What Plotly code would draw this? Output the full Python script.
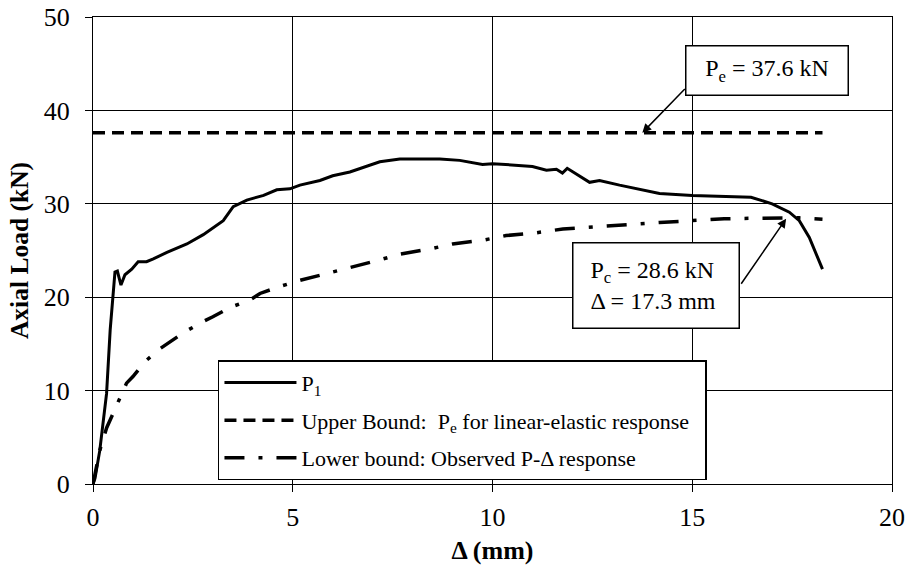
import plotly.graph_objects as go

# ---- data ----
p1_x = [0, 0.05, 0.17, 0.34, 0.43, 0.51, 0.55, 0.61, 0.70, 0.80, 0.97, 1.13, 1.34, 1.51, 1.85,
        2.35, 2.76, 3.26, 3.51, 3.85, 4.27, 4.60, 4.93, 5.18, 5.68, 6.0, 6.43, 7.18, 7.68, 8.68,
        9.18, 9.75, 10.0, 11.0, 11.35, 11.6, 11.75, 11.87, 12.43, 12.68, 13.18, 14.18, 14.59,
        15.0, 16.47, 17.0, 17.43, 17.68, 17.93, 18.26]
p1_y = [0, 0.6, 3.6, 9.7, 16.5, 20.4, 22.7, 22.8, 21.3, 22.4, 23.0, 23.8, 23.8, 24.1, 24.8,
        25.7, 26.7, 28.2, 29.7, 30.4, 30.9, 31.5, 31.6, 32.0, 32.5, 33.0, 33.4, 34.5, 34.8, 34.8,
        34.65, 34.2, 34.3, 34.0, 33.6, 33.7, 33.3, 33.8, 32.3, 32.5, 32.0, 31.1, 31.0,
        30.9, 30.7, 30.0, 29.1, 28.2, 26.4, 23.0]

upper_x = [0, 18.26]
upper_y = [37.6, 37.6]

lower_x = [0, 0.17, 0.34, 0.42, 0.61, 0.84, 1.0, 1.3, 1.68, 1.93, 2.3, 2.76, 3.0, 3.43, 3.93,
           4.18, 4.64, 5.18, 5.93, 6.43, 7.18, 7.68, 8.47, 9.0, 9.76, 10.34, 11.1, 11.76, 12.38,
           13.1, 13.68, 14.18, 15.0, 15.8, 16.5, 17.0, 17.3, 17.68, 18.26]
lower_y = [0, 3.6, 6.0, 6.8, 8.7, 10.8, 11.5, 13.1, 14.5, 15.2, 16.3, 17.4, 17.9, 18.9, 19.7,
           20.4, 21.1, 21.8, 22.6, 23.2, 24.0, 24.6, 25.2, 25.7, 26.1, 26.6, 26.9, 27.3, 27.5,
           27.7, 27.9, 28.0, 28.2, 28.4, 28.45, 28.5, 28.55, 28.5, 28.35]

series_names = ["P<sub>1</sub>",
                "Upper Bound:  P<sub>e</sub> for linear-elastic response\u00a0\u00a0",
                "Lower bound: Observed P-Δ response"]

x_ticks = [0, 5, 10, 15, 20]
y_ticks = [0, 10, 20, 30, 40, 50]

pe_text = "P<sub>e</sub> = 37.6 kN"
pc_text = "P<sub>c</sub> = 28.6 kN<br>Δ = 17.3 mm"

FONT = "Liberation Serif, Times New Roman, serif"

fig = go.Figure()
fig.add_trace(go.Scatter(x=p1_x, y=p1_y, mode="lines", name=series_names[0], legendgroup="a",
                         line=dict(color="black", width=3)))
fig.add_trace(go.Scatter(x=upper_x, y=upper_y, mode="lines", name=series_names[1], legendgroup="b",
                         line=dict(color="black", width=3.5, dash="12px,7px")))
fig.add_trace(go.Scatter(x=lower_x, y=lower_y, mode="lines", name=series_names[2], legendgroup="c",
                         line=dict(color="black", width=3.5, dash="20px,14px,4px,14px")))

axis_common = dict(showline=True, linecolor="black", linewidth=1, mirror=True,
                   showgrid=True, gridcolor="black", gridwidth=1, zeroline=False,
                   ticks="outside", ticklen=7, tickcolor="black", tickwidth=1,
                   automargin=False, ticklabeloverflow="allow",
                   tickfont=dict(family=FONT, size=26, color="black"))

fig.update_xaxes(range=[0, 20], tickvals=x_ticks, ticktext=[str(v) for v in x_ticks],
                 ticklabelstandoff=3,
                 title=dict(text="<b>Δ (mm)</b>", font=dict(family=FONT, size=26, color="black"),
                            standoff=10),
                 **axis_common)
fig.update_yaxes(range=[0, 50], tickvals=y_ticks, ticktext=[str(v) for v in y_ticks],
                 ticklabelstandoff=10,
                 title=dict(text="<b>Axial Load (kN)</b>", font=dict(family=FONT, size=25.5, color="black"),
                            standoff=7),
                 **axis_common)

# arrows
fig.add_annotation(x=13.75, y=37.6, ax=14.85, ay=42.46, axref="x", ayref="y", text="",
                   showarrow=True, arrowhead=2, arrowsize=1.2, arrowwidth=1.5, arrowcolor="black",
                   standoff=0)
fig.add_annotation(x=17.35, y=28.4, ax=16.2, ay=21.28, axref="x", ayref="y", text="",
                   showarrow=True, arrowhead=2, arrowsize=1.2, arrowwidth=1.5, arrowcolor="black",
                   standoff=0)
# boxes
fig.add_annotation(x=16.88, y=44.28, xref="x", yref="y", text=pe_text, showarrow=False,
                   xanchor="center", yanchor="middle", width=155, height=42, borderpad=3,
                   bordercolor="black", borderwidth=1.5, bgcolor="white",
                   font=dict(family=FONT, size=24, color="black"))
fig.add_annotation(x=14.1, y=21.28, xref="x", yref="y", text=pc_text, showarrow=False,
                   xanchor="center", yanchor="middle", width=131, height=50, borderpad=17,
                   align="left", bordercolor="black", borderwidth=1.5, bgcolor="white",
                   font=dict(family=FONT, size=24, color="black"))

fig.update_layout(
    width=908, height=565, autosize=False,
    margin=dict(l=93, r=16, t=16.5, b=81, autoexpand=False),
    paper_bgcolor="white", plot_bgcolor="white",
    font=dict(family=FONT, color="black"),
    showlegend=True,
    legend=dict(x=0.1564, y=0.265, xanchor="left", yanchor="top",
                bgcolor="white", bordercolor="black", borderwidth=1.5,
                font=dict(family=FONT, size=22, color="black"),
                itemwidth=72, tracegroupgap=6, traceorder="grouped"),
)

# remove the default 8px page margin so the figure fills the window exactly
fig.write_html("out.html", config={"displayModeBar": False},
               post_script="document.body.style.margin='0';")
